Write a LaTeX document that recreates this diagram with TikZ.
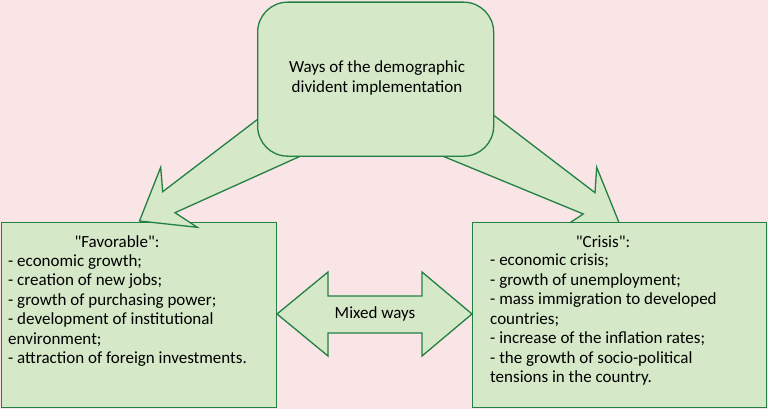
\documentclass[tikz,border=0pt]{standalone}
\usepackage{fontspec}
\newfontfamily\cfont{Carlito}
\definecolor{bg}{RGB}{249,228,230}
\definecolor{fillg}{RGB}{213,232,200}
\definecolor{lineg}{RGB}{34,128,68}
\begin{document}
\begin{tikzpicture}[x=1pt,y=-1pt,
  shapefill/.style={fill=fillg, draw=lineg, line width=1.3pt, line join=miter},
  box/.style={shapefill, rectangle, inner sep=0pt, anchor=north west},
  txt/.style={font=\cfont\fontsize{17}{19.5}\selectfont, inner sep=0pt, align=left, anchor=north west}]
\fill[bg] (0,0) rectangle (768,409);
\useasboundingbox (0,0) rectangle (768,409);
% right block arrow (under the right box)
\draw[shapefill] (473,99.5) -- (493.3,115) -- (595,192.7) -- (596.7,167.3) -- (620,225)
  -- (561,228.6) -- (583.3,214) -- (440,155) -- (418.5,146) -- cycle;
% lower boxes
\node[box, minimum width=275pt, minimum height=185pt] (fav) at (1,222) {};
\node[box, minimum width=294pt, minimum height=185pt] (crisis) at (472,222) {};
% left block arrow (over the left box)
\draw[shapefill] (275.5,105.7) -- (256.7,120) -- (162.7,191.7) -- (160.7,167.3) -- (139.5,221)
  -- (197.3,227.3) -- (175,212.7) -- (303,155) -- (322,146) -- cycle;
% top box
\node[box, rounded corners=30pt, minimum width=236pt, minimum height=154pt] (top) at (257,1.5) {};
% double arrow
\draw[shapefill] (277,314) -- (328,272) -- (328,296) -- (422,296) -- (422,272) -- (472,314)
  -- (422,356) -- (422,333) -- (328,333) -- (328,356) -- cycle;
% texts
\node[txt, anchor=center, align=center] (toptxt) at (377,78) {Ways of the demographic\\divident implementation};
\node[txt, anchor=center] (mixed) at (375,314) {Mixed ways};
\node[txt, anchor=center] (favtitle) at (117,242) {"Favorable":};
\node[txt] (favlist) at (8,254) {- economic growth;\\- creation of new jobs;\\- growth of purchasing power;\\- development of institutional\\environment;\\- attraction of foreign investments.};
\node[txt, anchor=center] (crtitle) at (603,242) {"Crisis":};
\node[txt] (crlist) at (490,254) {- economic crisis;\\- growth of unemployment;\\- mass immigration to developed\\countries;\\- increase of the inflation rates;\\- the growth of socio-political\\tensions in the country.};
\end{tikzpicture}
\end{document}
